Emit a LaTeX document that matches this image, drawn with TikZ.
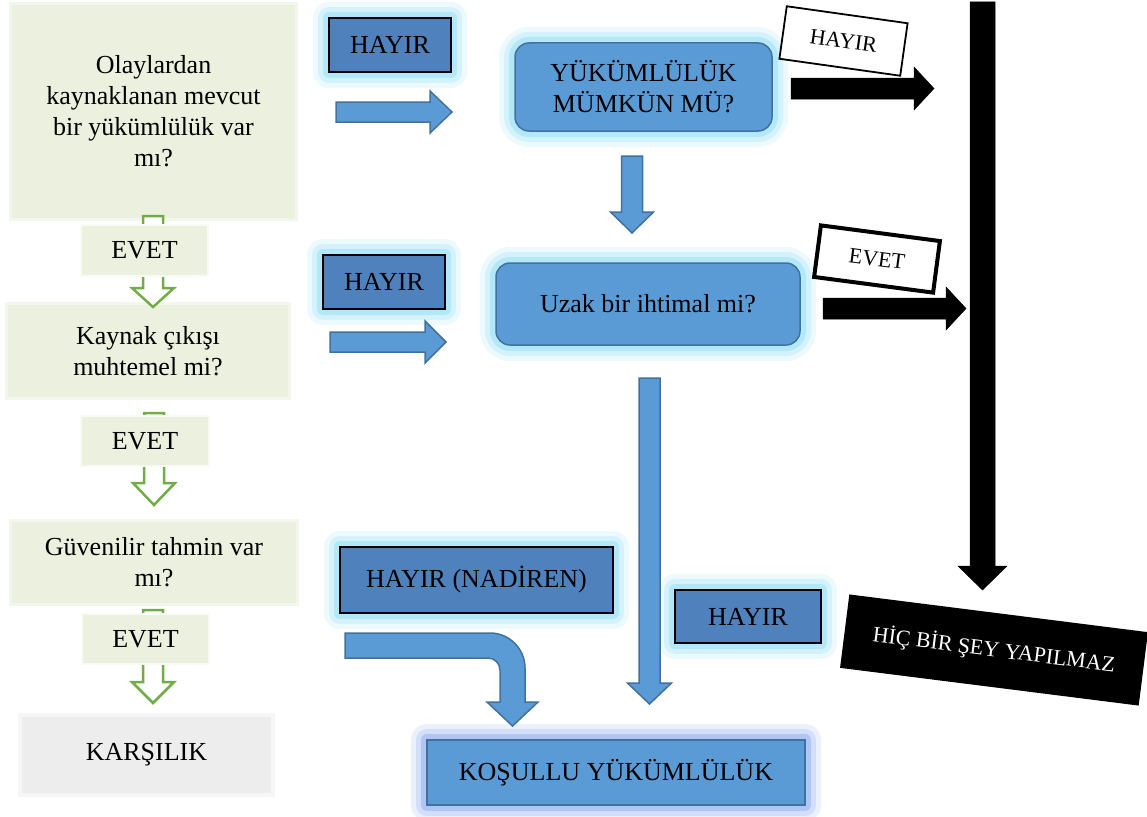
\documentclass[tikz,border=0pt]{standalone}
\usepackage{fontspec}
\setmainfont{Liberation Serif}
\usetikzlibrary{calc}
\definecolor{lgreen}{HTML}{EBF1DE}
\definecolor{lgreenedge}{HTML}{F3F6EC}
\definecolor{lgray}{HTML}{EDEDED}
\definecolor{dblue}{HTML}{4F81BD}
\definecolor{mblue}{HTML}{5B9BD5}
\definecolor{bblue}{HTML}{41719C}
\definecolor{glowc}{HTML}{9FE2F6}
\definecolor{glowp}{HTML}{9CB6F3}
\definecolor{agreen}{HTML}{70AD47}
\newcommand{\harr}[6]{\draw[#6] ($(#1)+(0,#3)$) -- ($(#2)+(-#5,#3)$) -- ($(#2)+(-#5,#4)$) -- (#2) -- ($(#2)+(-#5,-#4)$) -- ($(#2)+(-#5,-#3)$) -- ($(#1)+(0,-#3)$) -- cycle;}
\newcommand{\varr}[6]{\draw[#6] ($(#1)+(#3,0)$) -- ($(#2)+(#3,-#5)$) -- ($(#2)+(#4,-#5)$) -- (#2) -- ($(#2)+(-#4,-#5)$) -- ($(#2)+(-#3,-#5)$) -- ($(#1)+(-#3,0)$) -- cycle;}
\tikzset{
  txt/.style={font=\fontsize{26}{31}\selectfont, align=center, inner sep=0pt},
  smalltxt/.style={font=\fontsize{22}{26}\selectfont, align=center, inner sep=0pt},
  glow/.style={preaction={draw=#1!20, line width=32pt, line join=round},
               preaction={draw=#1!45, line width=22pt, line join=round},
               preaction={draw=#1!80, line width=12pt, line join=round}},
  qbox/.style={txt, fill=lgreen, preaction={draw=lgreenedge, line width=6pt}},
  ebox/.style={txt, fill=lgreen, preaction={draw=lgreenedge!60, line width=4pt}},
  kbox/.style={txt, fill=lgray, preaction={draw=lgray!50, line width=8pt}},
  hbox/.style={txt, fill=dblue, draw=black, line width=2.5pt, glow=glowc},
  ybox/.style={txt, fill=mblue, draw=bblue, line width=1.5pt, rounded corners=14pt, glow=glowc},
  kobox/.style={txt, fill=mblue, draw=bblue, line width=2pt, glow=glowp},
  rbox/.style={smalltxt, fill=white, draw=black},
  barrow/.style={fill=mblue, draw=bblue, line width=1.5pt, line join=miter},
  karrow/.style={fill=black, draw=black, line width=0.5pt},
  garrow/.style={fill=white, draw=agreen, line width=2.5pt, line join=miter},
}
\begin{document}
\begin{tikzpicture}[x=1pt, y=-1pt]
\useasboundingbox (0,0) rectangle (1147,816);

% left column: question boxes
\node[qbox, minimum width=283pt, minimum height=213pt] (q1) at (153.5,111.5) {Olaylardan\\kaynaklanan mevcut\\bir yükümlülük var\\mı?};
\node[qbox, minimum width=280pt, minimum height=92pt] (q2) at (148,351) {Kaynak çıkışı\\muhtemel mi?};
\node[qbox, minimum width=284pt, minimum height=81pt] (q3) at (154,562.5) {Güvenilir tahmin var\\mı?};
\node[kbox, minimum width=249pt, minimum height=76pt] (k) at (146.5,755) {KARŞILIK};

% green hollow arrows (behind EVET boxes)
\coordinate (g1s) at (153,216); \coordinate (g1t) at (153,307);
\coordinate (g2s) at (154,413); \coordinate (g2t) at (154,505);
\coordinate (g3s) at (153,610); \coordinate (g3t) at (153,703);
\varr{g1s}{g1t}{10}{21}{19}{garrow}
\varr{g2s}{g2t}{10}{21}{22}{garrow}
\varr{g3s}{g3t}{10}{21}{21}{garrow}

% EVET labels
\node[ebox, minimum width=125pt, minimum height=49pt] (e1) at (144.5,250.5) {EVET};
\node[ebox, minimum width=126pt, minimum height=48pt] (e2) at (145,441) {EVET};
\node[ebox, minimum width=125pt, minimum height=48pt] (e3) at (145.5,639) {EVET};

% middle column
\node[hbox, minimum width=122pt, minimum height=54pt] (h1) at (390,45) {HAYIR};
\node[hbox, minimum width=122pt, minimum height=54pt] (h2) at (384,282) {HAYIR};
\node[hbox, minimum width=273pt, minimum height=66pt] (h3) at (476.5,580) {HAYIR (NADİREN)};
\node[hbox, minimum width=146pt, minimum height=53pt] (h4) at (748,616.5) {HAYIR};
\node[ybox, minimum width=257pt, minimum height=88pt] (y1) at (643.5,87) {YÜKÜMLÜLÜK\\MÜMKÜN MÜ?};
\node[ybox, minimum width=304pt, minimum height=82pt] (u1) at (648,304) {Uzak bir ihtimal mi?};
\node[kobox, minimum width=378pt, minimum height=65pt] (ko) at (616,772.5) {KOŞULLU YÜKÜMLÜLÜK};

% blue arrows
\coordinate (a1s) at (336,112); \coordinate (a1t) at (452,112);
\coordinate (a2s) at (330,342); \coordinate (a2t) at (446,342);
\coordinate (a3s) at (632,156); \coordinate (a3t) at (632,233);
\coordinate (a4s) at (649.5,378); \coordinate (a4t) at (649.5,704);
\harr{a1s}{a1t}{10}{21}{22}{barrow}
\harr{a2s}{a2t}{10}{21}{21}{barrow}
\varr{a3s}{a3t}{10.5}{21.5}{21}{barrow}
\varr{a4s}{a4t}{10.5}{22}{21}{barrow}
\coordinate (a5s) at (345,645.5); \coordinate (a5t) at (512.5,726);
\draw[barrow] ($(a5s)+(0,-12.5)$) -- (490,633) .. controls (509.3,633) and (525,648.7) .. (525,668)
  -- (525,702) -- (538,702) -- (a5t) -- (487,702) -- (500,702) -- (500,670)
  .. controls (500,663.4) and (494.6,658) .. (488,658) -- ($(a5s)+(0,12.5)$) -- cycle;

% black arrows
\coordinate (b1s) at (791,88.5); \coordinate (b1t) at (934,88.5);
\coordinate (b2s) at (823,308.5); \coordinate (b2t) at (966,308.5);
\coordinate (b3s) at (982.5,2); \coordinate (b3t) at (982.5,590);
\harr{b1s}{b1t}{10.5}{21.5}{20}{karrow}
\harr{b2s}{b2t}{10.5}{21.5}{20}{karrow}
\varr{b3s}{b3t}{12.5}{24.5}{24}{karrow}

% rotated labels
\node[rbox, line width=1.8pt, rotate=-8, minimum width=122pt, minimum height=53pt] (r1) at (843.5,41) {HAYIR};
\node[rbox, line width=4pt, rotate=-7.5, minimum width=120pt, minimum height=52pt] (r2) at (877,259) {EVET};
\node[smalltxt, fill=black, text=white, rotate=-7.2, minimum width=301pt, minimum height=74pt] (r3) at (994,650) {HİÇ BİR ŞEY YAPILMAZ};
\end{tikzpicture}
\end{document}
